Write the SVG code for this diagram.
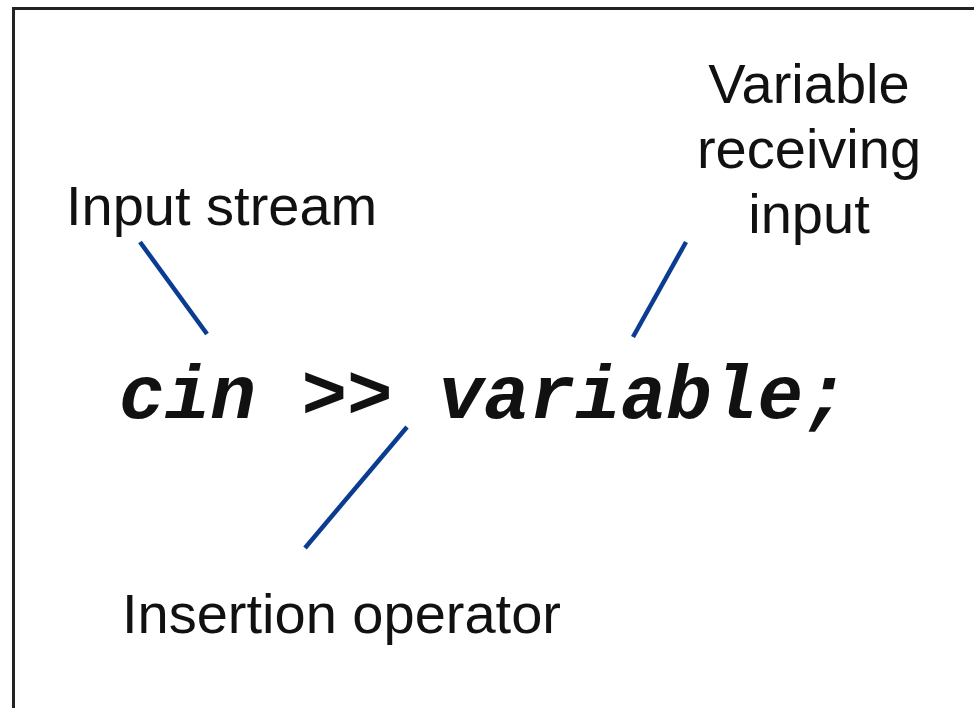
<svg xmlns="http://www.w3.org/2000/svg" width="974" height="708" viewBox="0 0 974 708">
<style>
.lbl{font-family:"Liberation Sans",Arial,sans-serif;font-size:56px;fill:#111}
.code{font-family:"Liberation Mono","Courier New",monospace;font-size:76px;font-weight:bold;font-style:italic;fill:#111}
.conn line{stroke:#0a3d91;stroke-width:4.5;stroke-linecap:butt}
</style>
<rect x="0" y="0" width="974" height="708" fill="#fff"/>
<rect x="13.5" y="8.5" width="990" height="740" fill="none" stroke="#222" stroke-width="3"/>
<g id="code"><text class="code" x="119" y="418">cin &gt;&gt; variable;</text></g>
<g id="input-stream"><text class="lbl" x="66" y="225">Input stream</text></g>
<g id="variable-receiving-input">
<text class="lbl" text-anchor="middle" x="809" y="103">Variable</text>
<text class="lbl" text-anchor="middle" x="809" y="168">receiving</text>
<text class="lbl" text-anchor="middle" x="809" y="233">input</text>
</g>
<g id="insertion-operator"><text class="lbl" x="122" y="633">Insertion operator</text></g>
<g id="connectors" class="conn">
<line x1="140" y1="242" x2="207" y2="334"/>
<line x1="686" y1="242" x2="633" y2="337"/>
<line x1="407" y1="427" x2="305" y2="548"/>
</g>
</svg>
